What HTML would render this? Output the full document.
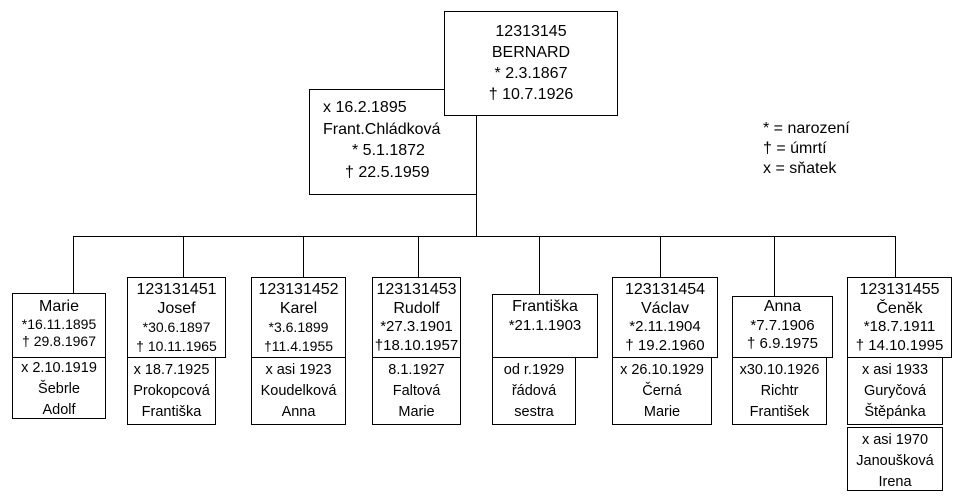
<!DOCTYPE html>
<html><head><meta charset="utf-8"><style>
body{margin:0;width:960px;height:500px;background:#fff;position:relative;overflow:hidden;font-family:"Liberation Sans",Arial,sans-serif;color:#000}
.b{position:absolute;border:1px solid #000;background:#fff;box-sizing:border-box;text-align:center;white-space:nowrap}
.l{position:absolute;background:#000}
.t{font-size:16px;line-height:18.5px}
.d{font-size:14px;line-height:18.5px}
.m{font-size:14.5px;line-height:21px;padding-top:2px}
</style></head><body>
<!-- connectors -->
<div class="l" style="left:476px;top:115px;width:1px;height:121px"></div>
<div class="l" style="left:73px;top:236px;width:823px;height:1px"></div>
<div class="l" style="left:73px;top:236px;width:1px;height:57px"></div>
<div class="l" style="left:183px;top:236px;width:1px;height:41px"></div>
<div class="l" style="left:303px;top:236px;width:1px;height:41px"></div>
<div class="l" style="left:418px;top:236px;width:1px;height:41px"></div>
<div class="l" style="left:539px;top:236px;width:1px;height:58px"></div>
<div class="l" style="left:660px;top:236px;width:1px;height:41px"></div>
<div class="l" style="left:774px;top:236px;width:1px;height:60px"></div>
<div class="l" style="left:895px;top:236px;width:1px;height:41px"></div>

<!-- wife -->
<div class="b" style="left:309px;top:89px;width:168px;height:106px;text-align:left;font-size:16px;line-height:21.5px;padding-top:7px">
<div style="padding-left:13px">x 16.2.1895</div>
<div style="padding-left:13px">Frant.Chládková</div>
<div style="padding-left:42px">* 5.1.1872</div>
<div style="padding-left:35px">† 22.5.1959</div>
</div>
<!-- Bernard -->
<div class="b" style="left:444px;top:11px;width:174px;height:105px;font-size:16px;line-height:21px;padding-top:9px">
12313145<br>BERNARD<br>* 2.3.1867<br>† 10.7.1926</div>

<!-- legend -->
<div style="position:absolute;left:763px;top:119px;font-size:16px;line-height:20px">* = narození<br>† = úmrtí<br>x = sňatek</div>

<!-- Marie -->
<div class="b" style="left:12px;top:293px;width:94px;height:65px;padding-top:3px"><div class="t" style="line-height:19px">Marie</div><div class="d" style="line-height:17px">*16.11.1895<br>† 29.8.1967</div></div>
<div class="b m" style="left:12px;top:357px;width:94px;height:62px;padding-top:0">x 2.10.1919<br>Šebrle<br>Adolf</div>

<!-- Josef -->
<div class="b" style="left:127px;top:277px;width:99px;height:81px;padding-top:3px"><div class="t">123131451<br>Josef</div><div class="d">*30.6.1897<br>† 10.11.1965</div></div>
<div class="b m" style="left:127px;top:357px;width:89px;height:68px">x 18.7.1925<br>Prokopcová<br>Františka</div>

<!-- Karel -->
<div class="b" style="left:251px;top:277px;width:95px;height:81px;padding-top:3px"><div class="t">123131452<br>Karel</div><div class="d">*3.6.1899<br>†11.4.1955</div></div>
<div class="b m" style="left:251px;top:357px;width:95px;height:68px">x asi 1923<br>Koudelková<br>Anna</div>

<!-- Rudolf -->
<div class="b" style="left:372px;top:277px;width:89px;height:81px;padding-top:3px"><div class="t">123131453<br>Rudolf</div><div class="d" style="font-size:15px">*27.3.1901<br>†18.10.1957</div></div>
<div class="b m" style="left:372px;top:357px;width:89px;height:68px">8.1.1927<br>Faltová<br>Marie</div>

<!-- Františka -->
<div class="b" style="left:492px;top:294px;width:106px;height:64px;padding-top:3px"><div class="t">Františka</div><div class="d" style="font-size:15px">*21.1.1903</div></div>
<div class="b m" style="left:492px;top:357px;width:84px;height:68px">od r.1929<br>řádová<br>sestra</div>

<!-- Václav -->
<div class="b" style="left:612px;top:277px;width:106px;height:81px;padding-top:3px"><div class="t">123131454<br>Václav</div><div class="d" style="font-size:15px">*2.11.1904<br>† 19.2.1960</div></div>
<div class="b m" style="left:612px;top:357px;width:100px;height:68px">x 26.10.1929<br>Černá<br>Marie</div>

<!-- Anna -->
<div class="b" style="left:732px;top:296px;width:101px;height:62px;padding-top:1px"><div class="t">Anna</div><div class="d" style="font-size:15px">*7.7.1906<br>† 6.9.1975</div></div>
<div class="b m" style="left:732px;top:357px;width:95px;height:68px">x30.10.1926<br>Richtr<br>František</div>

<!-- Čeněk -->
<div class="b" style="left:847px;top:277px;width:105px;height:81px;padding-top:3px"><div class="t">123131455<br>Čeněk</div><div class="d" style="font-size:15px">*18.7.1911<br>† 14.10.1995</div></div>
<div class="b m" style="left:847px;top:357px;width:96px;height:68px">x asi 1933<br>Guryčová<br>Štěpánka</div>
<div class="b m" style="left:847px;top:427px;width:96px;height:64px;overflow:hidden">x asi 1970<br>Janoušková<br>Irena</div>
</body></html>
